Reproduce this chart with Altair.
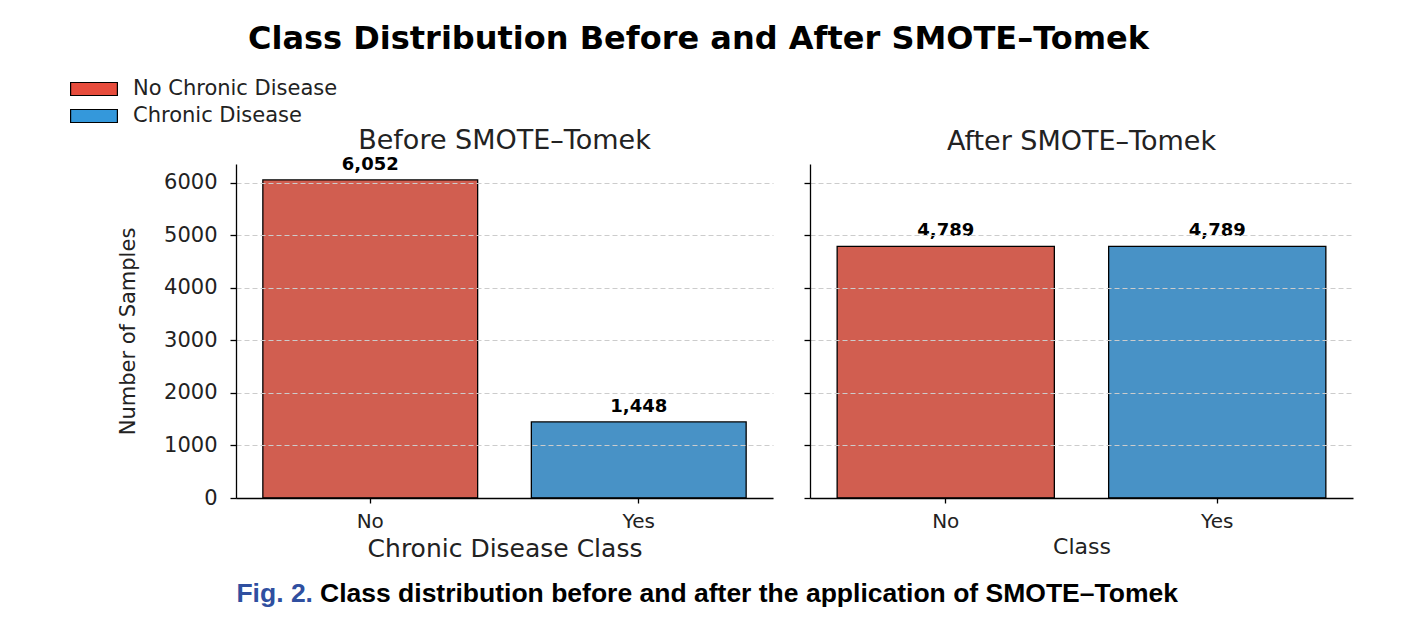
import altair as alt
import pandas as pd

classes = ["No", "Yes"]
before_counts = [6052, 1448]
after_counts = [4789, 4789]
legend_labels = ["No Chronic Disease", "Chronic Disease"]
legend_colors = ["#e74c3c", "#3498db"]
bar_colors = ["#d15e50", "#4892c6"]
y_ticks = [0, 1000, 2000, 3000, 4000, 5000, 6000]
main_title = "Class Distribution Before and After SMOTE–Tomek"
panel_titles = ["Before SMOTE–Tomek", "After SMOTE–Tomek"]
x_titles = ["Chronic Disease Class", "Class"]
caption_prefix = "Fig. 2."
caption_text = "Class distribution before and after the application of SMOTE–Tomek"

ymax = max(before_counts) * 1.05

before_df = pd.DataFrame({"cls": classes, "count": before_counts,
                          "label": [f"{v:,}" for v in before_counts]})
after_df = pd.DataFrame({"cls": classes, "count": after_counts,
                         "label": [f"{v:,}" for v in after_counts]})

yscale = alt.Scale(domain=[0, ymax], nice=False, zero=True)
fill_scale = alt.Scale(domain=classes, range=bar_colors)


def panel(df, xtitle, xtitle_size, show_labels):
    xenc = alt.X("cls:N", sort=classes,
                 scale=alt.Scale(paddingInner=0.2, paddingOuter=0.1),
                 axis=alt.Axis(title=xtitle, labelAngle=0, labelFontSize=20,
                               titleFontSize=xtitle_size, titleFontWeight="normal",
                               labelPadding=8, titlePadding=5,
                               tickSize=5, domainColor="black", tickColor="black",
                               labelColor="#222", titleColor="#222", grid=False,
                               domainWidth=1.3, tickWidth=1.3, zindex=2))
    yaxis = alt.Axis(values=y_ticks, format="d",
                     title="Number of Samples" if show_labels else None,
                     labels=show_labels, labelFontSize=21, titleFontSize=21,
                     titleFontWeight="normal", titlePadding=25,
                     tickSize=6, domainColor="black", tickColor="black",
                     labelColor="#222", titleColor="#222",
                     grid=True, gridDash=[5, 3], gridColor="#cccccc", gridWidth=1,
                     domainWidth=1.3, tickWidth=1.3, zindex=1, labelPadding=13)
    bars = alt.Chart(df).mark_bar(stroke="black", strokeWidth=1.3).encode(
        x=xenc,
        y=alt.Y("count:Q", scale=yscale, axis=yaxis),
        fill=alt.Fill("cls:N", scale=fill_scale, legend=None),
    )
    text = alt.Chart(df).mark_text(fontWeight="bold", fontSize=18, dy=-15,
                                   color="black").encode(
        x=alt.X("cls:N", sort=classes),
        y=alt.Y("count:Q", scale=yscale),
        text="label:N",
    )
    return bars, text


b1, t1 = panel(before_df, x_titles[0], 25, True)
b2, t2 = panel(after_df, x_titles[1], 22, False)

legend_df = pd.DataFrame({"lab": legend_labels})
legend_layer = alt.Chart(legend_df).mark_square(opacity=0, size=0).encode(
    color=alt.Color("lab:N", sort=legend_labels,
                    scale=alt.Scale(domain=legend_labels, range=legend_colors),
                    legend=alt.Legend(title=None, orient="none", legendX=-156, legendY=-89,
                                      symbolType="M-1.8,-0.5L1.8,-0.5L1.8,0.5L-1.8,0.5Z",
                                      symbolSize=676, symbolOpacity=1,
                                      symbolStrokeColor="black", symbolStrokeWidth=1.2,
                                      labelFontSize=21, labelOffset=25, rowPadding=3,
                                      labelLimit=0, labelColor="#222")),
)

left = alt.layer(b1, t1, legend_layer).properties(
    width=537, height=334,
    title=alt.TitleParams(panel_titles[0], fontSize=27, fontWeight="normal", offset=1,
                          color="#222"))
right = alt.layer(b2, t2).properties(
    width=543, height=334,
    title=alt.TitleParams(panel_titles[1], fontSize=27, fontWeight="normal", offset=8,
                          color="#222"))

cap1 = alt.Chart(pd.DataFrame({"t": [caption_prefix]})).mark_text(
    align="right", baseline="middle", font="Liberation Sans", fontWeight="bold",
    fontSize=26.5, color="#2f4fa0").encode(text="t:N", x=alt.value(77), y=alt.value(22))
cap2 = alt.Chart(pd.DataFrame({"t": [caption_text]})).mark_text(
    align="left", baseline="middle", font="Liberation Sans", fontWeight="bold",
    fontSize=26.5, color="black").encode(text="t:N", x=alt.value(84), y=alt.value(22))
caption = alt.layer(cap1, cap2).properties(width=800, height=40)

top = alt.hconcat(left, right, spacing=30)

chart = alt.vconcat(top, caption, spacing=11).properties(
    title=alt.TitleParams(main_title, fontSize=32, fontWeight="bold", anchor="middle",
                          offset=19, color="black", dx=-18),
    padding={"left": 80, "top": 23, "right": 5, "bottom": 5},
).configure(font="DejaVu Sans").configure_view(stroke=None)

chart.save("out.html", embed_options={"renderer": "svg", "actions": False})
